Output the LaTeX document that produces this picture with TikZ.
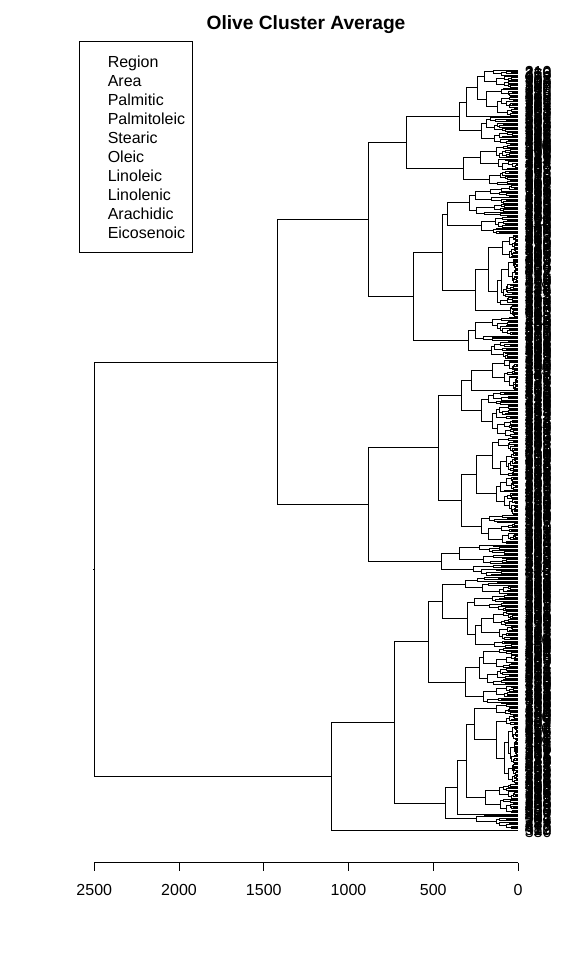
\documentclass[tikz,border=0pt]{standalone}
\usepackage{fontspec}
\setmainfont{Liberation Sans}
\tikzset{
  dline/.style={line width=0.75pt, black},
  leaflab/.style={anchor=west, inner sep=0pt, font=\fontsize{12}{12}\selectfont},
  ticklab/.style={inner sep=0pt, font=\fontsize{12}{14}\selectfont},
  legtext/.style={anchor=base west, inner sep=0pt, font=\fontsize{12}{14}\selectfont},
  titletext/.style={anchor=base, inner sep=0pt, font=\fontsize{14.4}{16}\selectfont\bfseries},
}
\def\ytop{70}
\def\lsp{1.3310}
\def\xleaf{518}
\newcommand\dlink[3]{%
  \draw[dline] (\xleaf-#2,\dcl) -- (\xleaf-#1,\dcl) -- (\xleaf-#1,\dcr) -- (\xleaf-#3,\dcr);
  \pgfmathsetmacro\dC{(\dcl+\dcr)/2}%
  \draw[dline] (\xleaf-#1-1.5,\dC) -- (\xleaf-#1,\dC);
  \xdef\dres{\dC}}
\newcommand\dtreesplit[3]{%
  \begingroup
    \pgfmathsetmacro\dU{rnd}%
    \pgfmathtruncatemacro\dM{#1+floor((#2-#1)*(0.15+0.7*\dU))}%
    \pgfmathtruncatemacro\dMM{\dM+1}%
    \ifnum\dM=#1\relax\def\dLd{0}\else\pgfmathsetmacro\dLd{#3*(0.5+0.4*rnd)}\fi
    \ifnum\dMM=#2\relax\def\dRd{0}\else\pgfmathsetmacro\dRd{#3*(0.5+0.4*rnd)}\fi
    \edef\dargs{{#1}{\dM}{\dLd}}\expandafter\dtree\dargs
    \let\dcl\dres
    \edef\dargs{{\dMM}{#2}{\dRd}}\expandafter\dtree\dargs
    \let\dcr\dres
    \dlink{#3}{\dLd}{\dRd}%
  \endgroup}
\newcommand\dtree[3]{%
  \ifnum#1=#2\relax
    \pgfmathsetmacro\dtmp{\ytop+(#1-1)*\lsp}%
    \xdef\dres{\dtmp}%
  \else
    \dtreesplit{#1}{#2}{#3}%
  \fi}
\newcommand\dfix[5]{%
  \begingroup
    #4\let\dcl\dres
    #5\let\dcr\dres
    \dlink{#1}{#2}{#3}%
  \endgroup}
\begin{document}
\begin{tikzpicture}[x=0.75pt,y=-0.75pt]
\useasboundingbox (0,0) rectangle (576,960);
\pgfmathsetseed{4242}
% title
\node[titletext] (title) at (306,29.5) {Olive Cluster Average};
% legend
\draw[line width=0.75pt] (79,41) rectangle (192,252);
\foreach \t [count=\k from 0] in {Region,Area,Palmitic,Palmitoleic,Stearic,Oleic,Linoleic,Linolenic,Arachidic,Eicosenoic}{
  \node[legtext] (leg\k) at (107.5,67.5+\k*19.0) {\t};
}
% dendrogram
\dfix{423.5}{241}{186.5}%
 {\dfix{241}{150}{150}%
   {\dfix{150}{111.3}{105}%
     {\dfix{111.3}{59}{54.7}%
        {\dfix{59}{52}{37}%
           {\dfix{52}{40.3}{0}{\dfix{40.3}{34}{31.3}{\dtree{1}{14}{34}}{\dtree{15}{35}{31.3}}}{\dtree{36}{36}{0}}}%
           {\dtree{37}{56}{37}}}%
        {\dfix{54.7}{38}{28.7}{\dtree{57}{76}{38}}{\dtree{77}{87}{28.7}}}}%
     {\dfix{105}{76}{50}%
        {\dfix{76}{70.3}{42.3}%
           {\dfix{70.3}{49}{36.3}{\dtree{88}{111}{49}}{\dtree{112}{124}{36.3}}}%
           {\dfix{42.3}{29.7}{8}{\dtree{125}{177}{29.7}}{\dtree{178}{186}{8}}}}%
        {\dfix{50}{42.3}{27}{\dtree{187}{204}{42.3}}{\dtree{205}{218}{27}}}}}%
   {\dfix{150}{79.7}{77}%
     {\dfix{79.7}{57}{56.3}%
        {\dfix{57}{46.3}{37}{\dfix{46.3}{26}{0}{\dtree{219}{241}{26}}{\dtree{242}{242}{0}}}{\dtree{243}{277}{37}}}%
        {\dfix{56.3}{42}{36.3}{\dtree{278}{335}{42}}{\dtree{336}{357}{36.3}}}}%
     {\dfix{77}{59}{45}{\dfix{59}{39}{35}{\dtree{358}{364}{39}}{\dtree{365}{372}{35}}}{\dtree{373}{381}{45}}}}}%
 {\dfix{186.5}{124}{0}%
   {\dfix{124}{89.7}{73}%
     {\dfix{89.7}{76}{52.3}%
        {\dfix{76}{52.3}{50.3}{\dtree{382}{395}{52.3}}{\dtree{396}{435}{50.3}}}%
        {\dfix{52.3}{39}{34.7}{\dtree{436}{463}{39}}{\dtree{464}{477}{34.7}}}}%
     {\dfix{73}{60.3}{41.3}%
        {\dfix{60.3}{52}{0}%
           {\dfix{52}{44}{32.3}{\dfix{44}{21.3}{21.3}{\dtree{478}{485}{21.3}}{\dtree{486}{537}{21.3}}}{\dtree{538}{559}{32.3}}}%
           {\dtree{560}{560}{0}}}%
        {\dtree{561}{571}{41.3}}}}%
   {\dtree{572}{572}{0}}}
% leaf labels
\foreach \i in {1,...,572}{
  \pgfmathrandominteger{\lab}{1}{572}
  \ifnum\i=1 \def\lab{210}\fi
  \ifnum\i=572 \def\lab{330}\fi
  \pgfmathsetmacro\ly{\ytop+(\i-1)*\lsp+1.5}
  \node[leaflab] (l\i) at (524.5,\ly) {\lab};
}
% axis
\draw[line width=0.75pt] (94.3,862.5) -- (518,862.5);
\foreach \v [count=\k] in {2500,2000,1500,1000,500,0}{
  \pgfmathsetmacro\tx{518-\v*0.1695}
  \draw[line width=0.75pt] (\tx,862.5) -- (\tx,871);
  \node[ticklab] (tick\k) at (\tx,890) {\v};
}
\end{tikzpicture}
\end{document}
